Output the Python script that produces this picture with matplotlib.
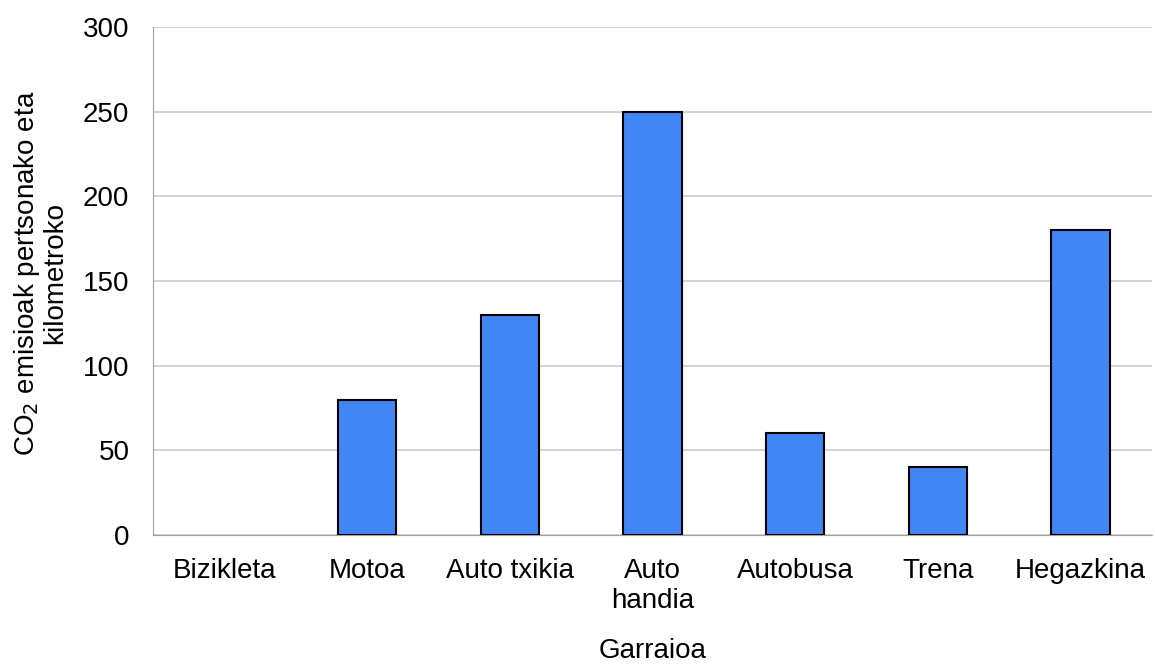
import matplotlib
matplotlib.use("Agg")
from matplotlib import pyplot as plt

#
# Data
#
categories = ["Bizikleta", "Motoa", "Auto txikia", "Auto\nhandia", "Autobusa", "Trena", "Hegazkina"]
emissions = [0, 80, 130, 250, 60, 40, 180]
y_ticks = [0, 50, 100, 150, 200, 250, 300]

plt.rcParams["font.family"] = ["Liberation Sans", "DejaVu Sans"]

fig = plt.figure(figsize=(11.55, 6.64), dpi=100)
ax = fig.add_axes([153 / 1155, 1 - 535 / 664, (1152 - 153) / 1155, (535 - 27) / 664])

x = list(range(len(categories)))
# no outline for empty bars (Excel draws nothing there)
edges = ["black" if v > 0 else "none" for v in emissions]
ax.bar(x, emissions, width=0.41, color="#4285F4", edgecolor=edges, linewidth=1.5, zorder=3)

ax.set_xlim(-0.5, len(categories) - 0.5)
ax.set_ylim(0, 300)
ax.set_yticks(y_ticks)
ax.set_xticks(x)
ax.set_xticklabels(categories, fontsize=20, linespacing=1.2)
ax.tick_params(axis="y", labelsize=20, length=0, pad=17)
ax.tick_params(axis="x", length=0, pad=16.5)

# Gridlines and spines
ax.grid(axis="y", color="#cccccc", linewidth=1.2, zorder=0)
for side in ["top", "right"]:
	ax.spines[side].set_visible(False)
ax.spines["left"].set_color("#a0a0a0")
ax.spines["bottom"].set_color("#a0a0a0")

ax.set_xlabel("Garraioa", fontsize=20, labelpad=17)
ax.set_ylabel("CO$_2$ emisioak pertsonako eta\nkilometroko", fontsize=20, labelpad=12, linespacing=1.0)
ax.yaxis.set_label_coords(-0.085, 0.515)

plt.savefig("out.png", dpi=100)
